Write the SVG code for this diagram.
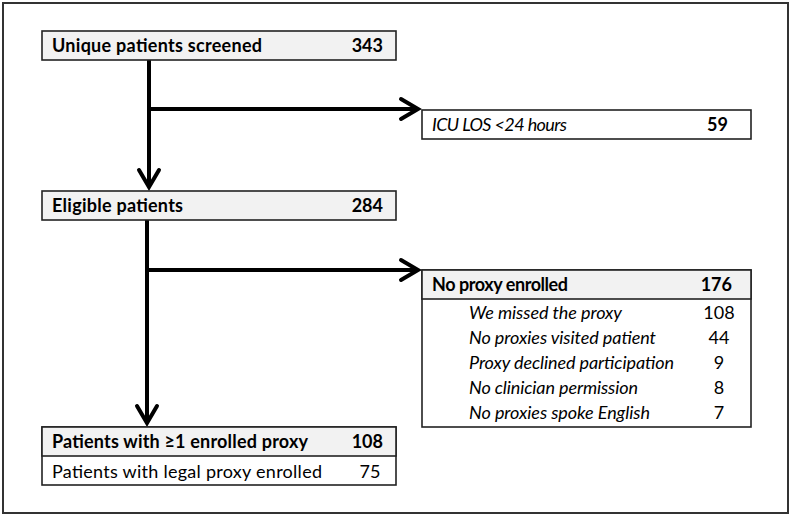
<svg xmlns="http://www.w3.org/2000/svg" width="791" height="516" viewBox="0 0 791 516">
<defs>
<style>
text{font-family:Lato,"Liberation Sans",sans-serif;font-size:18px;fill:#000}
.b{font-weight:bold}
.i{font-style:italic}
.e{text-anchor:end}
.m{text-anchor:middle}
.box{stroke:#222;stroke-width:1.6;fill:#fff}
.hd{fill:#f2f2f2}
.frame{fill:#fff;stroke:#333;stroke-width:2}
.conn{stroke:#000;stroke-width:4;fill:none}
</style>
<marker id="arr" markerUnits="userSpaceOnUse" viewBox="-24 -14 28 28" markerWidth="28" markerHeight="28" refX="0" refY="0" orient="auto">
<path d="M-17,-10 L0,0 L-17,10" fill="none" stroke="#000" stroke-width="4" stroke-linecap="round" stroke-linejoin="miter"/>
</marker>
</defs>
<rect class="frame" x="3" y="3" width="785" height="510"/>
<g id="connectors">
<path class="conn" d="M149,60 V187" marker-end="url(#arr)"/>
<path class="conn" d="M149,109 H418" marker-end="url(#arr)"/>
<path class="conn" d="M147,220 V423" marker-end="url(#arr)"/>
<path class="conn" d="M147,270 H418" marker-end="url(#arr)"/>
</g>
<g id="screened">
<rect class="box hd" x="42" y="31" width="354" height="29"/>
<text class="b" x="52" y="52" textLength="210">Unique patients screened</text>
<text class="b e" x="383" y="52">343</text>
</g>
<g id="eligible">
<rect class="box hd" x="42" y="191" width="354" height="29"/>
<text class="b" x="52" y="212" textLength="131">Eligible patients</text>
<text class="b e" x="383" y="212">284</text>
</g>
<g id="icu">
<rect class="box" x="422" y="110" width="329" height="29"/>
<text class="i" x="432" y="131" textLength="135">ICU LOS &lt;24 hours</text>
<text class="b e" x="728" y="131">59</text>
</g>
<g id="noproxy">
<rect class="box" x="422" y="270" width="329" height="157"/>
<rect class="box hd" x="422" y="270" width="329" height="29"/>
<text class="b" x="432" y="291" textLength="136">No proxy enrolled</text>
<text class="b e" x="732" y="291">176</text>
<text class="i" x="469" y="319" textLength="153">We missed the proxy</text>
<text class="m" x="719" y="319">108</text>
<text class="i" x="469" y="344" textLength="187">No proxies visited patient</text>
<text class="m" x="719" y="344">44</text>
<text class="i" x="469" y="369" textLength="205">Proxy declined participation</text>
<text class="m" x="719" y="369">9</text>
<text class="i" x="469" y="394" textLength="169">No clinician permission</text>
<text class="m" x="719" y="394">8</text>
<text class="i" x="469" y="419" textLength="181">No proxies spoke English</text>
<text class="m" x="719" y="419">7</text>
</g>
<g id="enrolled">
<rect class="box" x="42" y="427" width="354" height="58"/>
<rect class="box hd" x="42" y="427" width="354" height="29"/>
<text class="b" x="52" y="448" textLength="256">Patients with ≥1 enrolled proxy</text>
<text class="b e" x="383" y="448">108</text>
<text x="52" y="478" textLength="270">Patients with legal proxy enrolled</text>
<text class="m" x="370" y="478">75</text>
</g>
</svg>
